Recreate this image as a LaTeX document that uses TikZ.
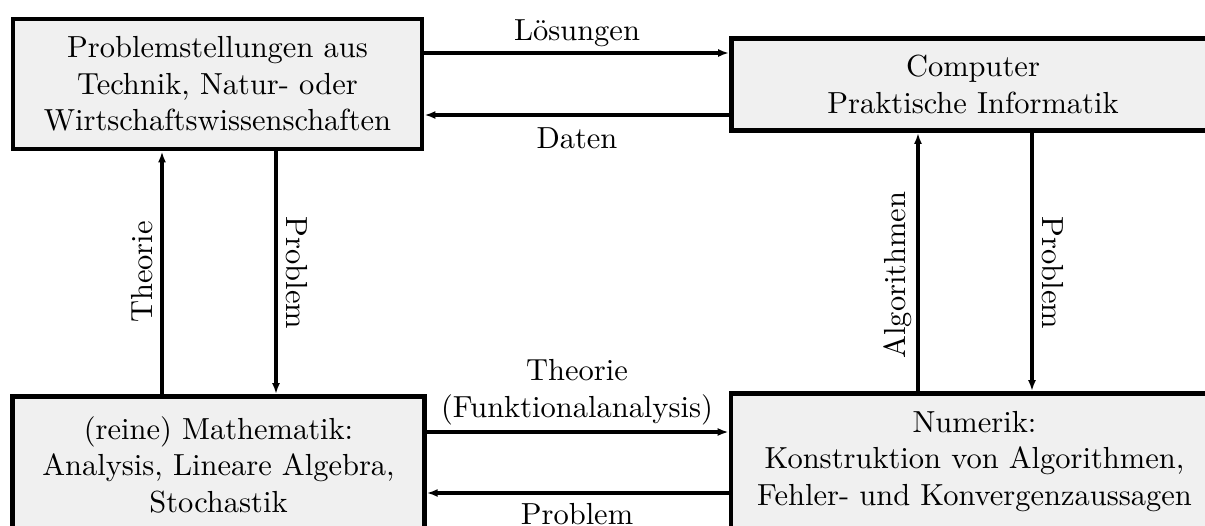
\documentclass[tikz,border=0pt]{standalone}
\usetikzlibrary{arrows.meta}
\begin{document}
\begin{tikzpicture}[x=0.328pt,y=-0.328pt,
  box/.style={draw, fill=black!6, line width=1.55pt, align=center, inner sep=0pt},
  arr/.style={line width=1.1pt, -{Latex[length=3.6pt,width=2.6pt]}},
  lab/.style={inner sep=0pt}]
\useasboundingbox (0,0) rectangle (1205,525);
\clip (0,0) rectangle (1205,525);
% boxes
\node[box, minimum width=134.15pt, minimum height=42.64pt] (b1) at (217.5,84)
  {Problemstellungen aus\\Technik, Natur- oder\\Wirtschaftswissenschaften};
\node[box, minimum width=158.4pt, minimum height=30.18pt] (b2) at (973,84.5)
  {Computer\\Praktische Informatik};
\node[box, minimum width=134.97pt, minimum height=44.6pt] (b3) at (218.5,464.5)
  {(reine) Mathematik:\\Analysis, Lineare Algebra,\\Stochastik};
\node[box, minimum width=159.7pt, minimum height=44.6pt] (b4) at (974.5,461.5)
  {Numerik:\\Konstruktion von Algorithmen,\\Fehler- und Konvergenzaussagen};
% helper coordinates
\coordinate (yL) at (0,53);
\coordinate (yD) at (0,115);
\coordinate (yT) at (0,432);
\coordinate (yP) at (0,493);
\coordinate (xT) at (162,0);
\coordinate (xP) at (276,0);
\coordinate (xA) at (918,0);
\coordinate (xQ) at (1032,0);
% connectors
\draw[arr] (b1.east |- yL) -- (b2.west |- yL);
\draw[arr] (b2.west |- yD) -- (b1.east |- yD);
\draw[arr] (b3.east |- yT) -- (b4.west |- yT);
\draw[arr] (b4.west |- yP) -- (b3.east |- yP);
\draw[arr] (b3.north -| xT) -- (b1.south -| xT);
\draw[arr] (b1.south -| xP) -- (b3.north -| xP);
\draw[arr] (b4.north -| xA) -- (b2.south -| xA);
\draw[arr] (b2.south -| xQ) -- (b4.north -| xQ);
% labels
\node[lab, anchor=base] (lL) at (577,40) {Lösungen};
\node[lab, anchor=base] (lD) at (577,148) {Daten};
\node[lab, anchor=base, align=center] (lT) at (577,417) {Theorie\\(Funktionalanalysis)};
\node[lab, anchor=base] (lP) at (577,524) {Problem};
\node[lab, anchor=base, rotate=90] (vT) at (152,272) {Theorie};
\node[lab, anchor=base, rotate=-90] (vP) at (286,273) {Problem};
\node[lab, anchor=base, rotate=90] (vA) at (905,275) {Algorithmen};
\node[lab, anchor=base, rotate=-90] (vQ) at (1042,273) {Problem};
\end{tikzpicture}
\end{document}
